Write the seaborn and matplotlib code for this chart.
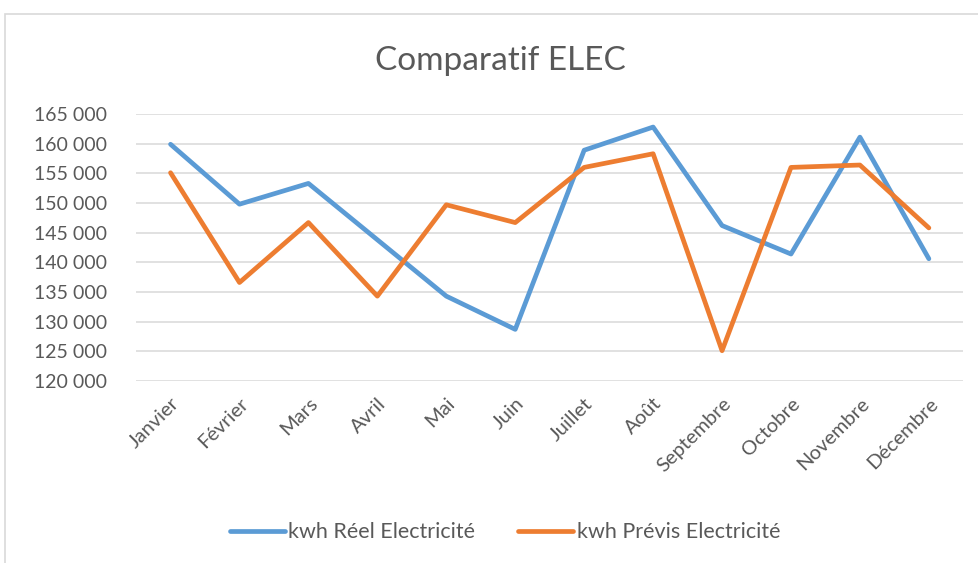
import pandas as pd
import seaborn as sns
import matplotlib.pyplot as plt
from matplotlib.ticker import FuncFormatter, MultipleLocator
from matplotlib.patches import Rectangle
from matplotlib.lines import Line2D

months = ['Janvier', 'Février', 'Mars', 'Avril', 'Mai', 'Juin', 'Juillet',
          'Août', 'Septembre', 'Octobre', 'Novembre', 'Décembre']
reel = [159900, 149800, 153300, 143800, 134300, 128700,
        158900, 162800, 146200, 141400, 161100, 140600]
previs = [155100, 136600, 146700, 134300, 149700, 146700,
          156000, 158300, 125100, 156000, 156400, 145800]
series_names = ['kwh Réel Electricité', 'kwh Prévis Electricité']
colors = ['#5B9BD5', '#ED7D31']

df = pd.DataFrame({'Mois': months * 2,
                   'kwh': reel + previs,
                   'Serie': [series_names[0]] * 12 + [series_names[1]] * 12})

sns.set_style('white')
plt.rcParams['font.family'] = ['Lato', 'DejaVu Sans']
txt = '#595959'

fig = plt.figure(figsize=(9.79, 5.63), dpi=100)
ax = fig.add_axes([0.139, 0.3233, 0.845, 0.4742])

sns.lineplot(data=df, x='Mois', y='kwh', hue='Serie', palette=colors,
             sort=False, linewidth=3.4, ax=ax, legend=False)

ax.set_xlim(-0.5, 11.5)
ax.set_ylim(120000, 165000)
ax.yaxis.set_major_locator(MultipleLocator(5000))
ax.yaxis.set_major_formatter(FuncFormatter(lambda v, p: f'{int(v):,}'.replace(',', ' ')))
ax.grid(axis='y', color='#D9D9D9', linewidth=1.1)
ax.set_axisbelow(True)
for s in ax.spines.values():
    s.set_visible(False)
ax.tick_params(length=0, labelcolor=txt)
ax.tick_params(axis='y', labelsize=14, pad=21)
ax.tick_params(axis='x', labelsize=14.5, pad=10)
plt.setp(ax.get_xticklabels(), rotation=45, ha='right', rotation_mode='anchor')
ax.set_xlabel('')
ax.set_ylabel('')

fig.text(0.511, 0.892, 'Comparatif ELEC', ha='center', va='center', fontsize=24, color=txt)

handles = [Line2D([], [], color=c, linewidth=3.4, solid_capstyle='round') for c in colors]
fig.legend(handles, series_names, loc='center', bbox_to_anchor=(0.516, 0.055), ncol=2,
           frameon=False, fontsize=15.5, labelcolor=txt, handlelength=2.55,
           handletextpad=0.15, columnspacing=2.0)

fig.patches.append(Rectangle((5 / 979, -0.05), 1.1, 1 - 14 / 563 + 0.05,
                             transform=fig.transFigure, fill=False,
                             edgecolor='#D9D9D9', linewidth=1.2))

fig.savefig('out.png', dpi=100)
